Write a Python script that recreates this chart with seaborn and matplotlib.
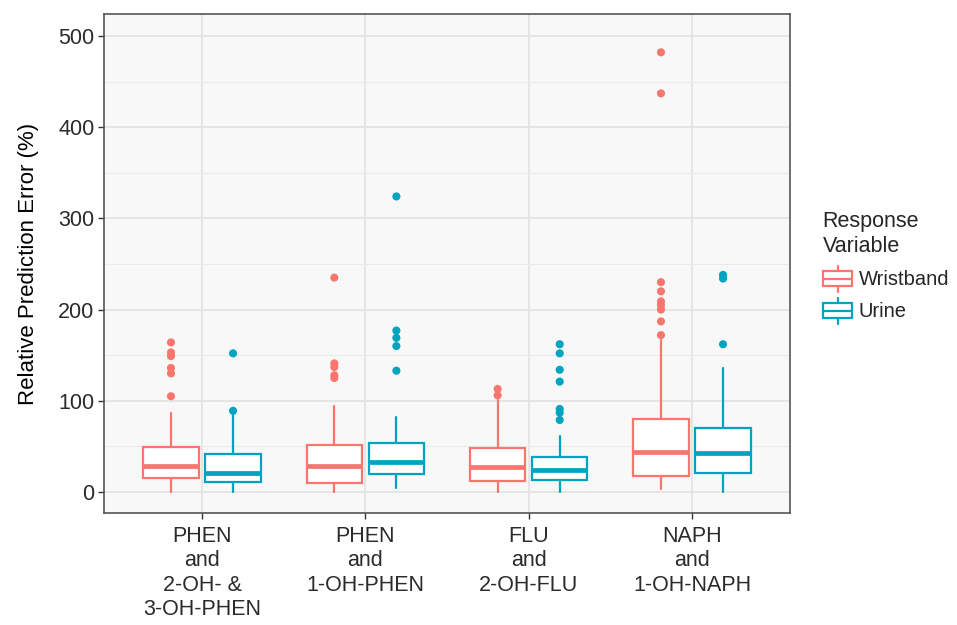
import numpy as np
import pandas as pd
import matplotlib
matplotlib.use("Agg")
import matplotlib.pyplot as plt
import seaborn as sns
from matplotlib.legend_handler import HandlerBase
from matplotlib.patches import Rectangle
from matplotlib.lines import Line2D

# ---------------- data ----------------
categories = ["PHEN\nand\n2-OH- &\n3-OH-PHEN", "PHEN\nand\n1-OH-PHEN",
              "FLU\nand\n2-OH-FLU", "NAPH\nand\n1-OH-NAPH"]
series = ["Wristband", "Urine"]

wrist_whislo = [0, 0, 0, 3]
wrist_q1 = [15, 10, 12, 18]
wrist_med = [28, 29, 27, 44]
wrist_q3 = [49, 51, 48, 80]
wrist_whishi = [87, 94, 101, 167]
wrist_fliers = [[164, 153, 149, 136, 130, 105],
                [235, 141, 137, 128, 125],
                [113, 106],
                [482, 437, 230, 220, 209, 205, 200, 187, 172]]

urine_whislo = [0, 4, 0, 0]
urine_q1 = [11, 20, 13, 21]
urine_med = [21, 33, 24, 43]
urine_q3 = [42, 54, 38, 70]
urine_whishi = [86, 82, 61, 136]
urine_fliers = [[89, 152],
                [324, 177, 169, 160, 133],
                [162, 152, 134, 121, 91, 87, 79],
                [238, 234, 162]]

colors = {"Wristband": "#F8766D", "Urine": "#00A3C0"}

# ---------------- style ----------------
sns.set_theme(style="whitegrid")
plt.rcParams["font.family"] = ["Liberation Sans", "DejaVu Sans"]

fig = plt.figure(figsize=(9.57, 6.25), dpi=100)
ax = fig.add_axes([0.1087, 0.1792, 0.7168, 0.7984])
ax.set_facecolor("#F8F8F8")

offset = 0.19
width = 0.34
stats_all = {
    "Wristband": (wrist_whislo, wrist_q1, wrist_med, wrist_q3, wrist_whishi, wrist_fliers),
    "Urine": (urine_whislo, urine_q1, urine_med, urine_q3, urine_whishi, urine_fliers),
}
rows = []
for si, s in enumerate(series):
    lo, q1, med, q3, hi, fl = stats_all[s]
    stats = []
    for i in range(len(categories)):
        stats.append(dict(whislo=lo[i], q1=q1[i], med=med[i], q3=q3[i], whishi=hi[i], fliers=[]))
        for v in fl[i]:
            rows.append({"x": i + (-offset if si == 0 else offset), "y": v, "Response Variable": s})
    pos = [i + (-offset if si == 0 else offset) for i in range(len(categories))]
    c = colors[s]
    ax.bxp(stats, positions=pos, widths=width, showcaps=False, showfliers=False,
           patch_artist=True,
           boxprops=dict(facecolor="white", edgecolor=c, linewidth=1.6),
           whiskerprops=dict(color=c, linewidth=1.6),
           medianprops=dict(color=c, linewidth=3.4, solid_capstyle="butt"),
           manage_ticks=False, zorder=3)

outliers = pd.DataFrame(rows)
sns.scatterplot(data=outliers, x="x", y="y", hue="Response Variable",
                palette=colors, s=34, edgecolor="none", ax=ax, legend=False, zorder=4)

ax.set_xlim(-0.6, 3.6)
ax.set_ylim(-23, 524)
ax.set_xticks(range(len(categories)))
ax.set_xticklabels(categories, fontsize=15.5, color="#2b2b2b", linespacing=1.22)
ax.set_yticks([0, 100, 200, 300, 400, 500])
ax.set_yticks([50, 150, 250, 350, 450], minor=True)
ax.tick_params(axis="y", labelsize=15.5, labelcolor="#2b2b2b")
ax.tick_params(axis="both", which="major", length=4, width=1, color="#333333",
               bottom=True, left=True, pad=3)
ax.tick_params(axis="x", which="major", pad=5)
ax.tick_params(axis="y", which="minor", length=0)
ax.grid(True, which="major", color="#E3E3E3", linewidth=1.3)
ax.grid(True, which="minor", axis="y", color="#EBEBEB", linewidth=0.8)
ax.set_axisbelow(True)
for sp in ax.spines.values():
    sp.set_color("#555555")
    sp.set_linewidth(1.2)
ax.set_xlabel("")
ax.set_ylabel("Relative Prediction Error (%)", fontsize=16, color="black", labelpad=14)


class BoxHandler(HandlerBase):
    def create_artists(self, legend, orig_handle, xdescent, ydescent, width, height, fontsize, trans):
        c = orig_handle.get_color()
        cx = -xdescent + width / 2
        h = height * 1.45
        y0 = -ydescent - (h - height) / 2
        bw = width * 0.95
        whisk = Line2D([cx, cx], [y0, y0 + h], color=c, lw=1.6, transform=trans)
        box = Rectangle((cx - bw / 2, y0 + h * 0.22), bw, h * 0.56, facecolor="white",
                        edgecolor=c, lw=1.6, transform=trans)
        medl = Line2D([cx - bw / 2, cx + bw / 2], [y0 + h / 2, y0 + h / 2], color=c, lw=1.6,
                      transform=trans)
        return [whisk, box, medl]


handles = [Line2D([], [], color=colors[s]) for s in series]
leg = fig.legend(handles, series, title="Response\nVariable", loc="upper left",
                 bbox_to_anchor=(0.849, 0.679), frameon=False, fontsize=14.5,
                 title_fontsize=15.5, handler_map={Line2D: BoxHandler()},
                 handlelength=1.5, handleheight=1.0, handletextpad=0.3, labelspacing=0.6,
                 borderpad=0.0)
leg._legend_box.align = "left"
leg.get_title().set_linespacing(1.3)

fig.savefig("out.png", dpi=100)
